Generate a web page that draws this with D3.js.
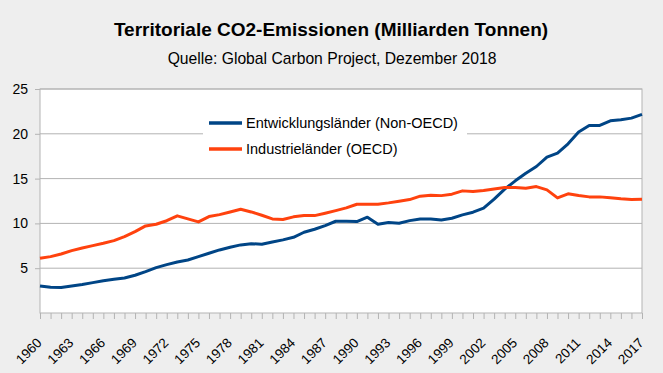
<!DOCTYPE html>
<html>
<head>
<meta charset="utf-8">
<script src="https://cdn.jsdelivr.net/npm/d3@7"></script>
<style>
  body { margin: 0; background: #eeeeee; }
  text { font-family: "Liberation Sans", Arial, sans-serif; fill: #000; }
</style>
</head>
<body>
<script>
// Werte (Milliarden Tonnen CO2)
var years = d3.range(1960, 2018);
var nonOecd = [3.02, 2.87, 2.85, 3.02, 3.17, 3.39, 3.61, 3.76, 3.91, 4.21,
  4.62, 5.06, 5.4, 5.7, 5.92, 6.29, 6.67, 7.04, 7.34, 7.6,
  7.74, 7.67, 7.93, 8.16, 8.45, 9.01, 9.35, 9.76, 10.24, 10.24,
  10.2, 10.69, 9.91, 10.09, 10.02, 10.31, 10.5, 10.5, 10.39, 10.58,
  10.95, 11.25, 11.7, 12.7, 13.82, 14.75, 15.6, 16.35, 17.4, 17.84,
  18.88, 20.19, 20.93, 20.93, 21.45, 21.56, 21.75, 22.16];
var oecd = [6.11, 6.29, 6.59, 6.96, 7.26, 7.52, 7.78, 8.08, 8.53, 9.08,
  9.72, 9.91, 10.3, 10.84, 10.5, 10.17, 10.76, 10.98, 11.28, 11.58,
  11.28, 10.91, 10.5, 10.43, 10.73, 10.87, 10.87, 11.14, 11.43, 11.73,
  12.14, 12.14, 12.14, 12.29, 12.48, 12.66, 13.04, 13.15, 13.1, 13.26,
  13.63, 13.55, 13.67, 13.85, 14.0, 14.0, 13.93, 14.11, 13.74, 12.85,
  13.3, 13.11, 12.96, 12.96, 12.85, 12.74, 12.66, 12.7];
var yTicks = [5, 10, 15, 20, 25];
var xLabels = d3.range(1960, 2018, 3);
var seriesNames = ["Entwicklungsländer (Non-OECD)", "Industrieländer (OECD)"];
var colors = ["#004586", "#ff420e"];

var W = 663, H = 373;
var margin = {top: 89, right: 21, bottom: 60, left: 40};
var width = W - margin.left - margin.right;
var height = H - margin.top - margin.bottom;

var svg = d3.select("body").append("svg")
  .attr("width", W)
  .attr("height", H);

svg.append("text")
  .attr("x", 331).attr("y", 36)
  .attr("text-anchor", "middle")
  .style("font-size", "19px").style("font-weight", "bold")
  .text("Territoriale CO2-Emissionen (Milliarden Tonnen)");
svg.append("text")
  .attr("x", 332).attr("y", 64)
  .attr("text-anchor", "middle")
  .style("font-size", "15.7px")
  .text("Quelle: Global Carbon Project, Dezember 2018");

var g = svg.append("g").attr("transform", "translate(" + margin.left + "," + margin.top + ")");

var x = d3.scaleLinear().domain([1960, 2017]).range([0, width]);
var y = d3.scaleLinear().domain([0, 25]).range([height, 0]);

g.append("rect")
  .attr("width", width).attr("height", height)
  .attr("fill", "#fff");

// Gitterlinien
g.selectAll(".grid").data(yTicks).enter().append("line")
  .attr("x1", 0).attr("x2", width)
  .attr("y1", d => y(d)).attr("y2", d => y(d))
  .attr("stroke", "#b3b3b3");

// Y-Achse
var yAxis = g.append("g")
  .call(d3.axisLeft(y).tickValues(yTicks).tickSize(5).tickPadding(7));
yAxis.select(".domain").remove();
yAxis.selectAll("line").attr("stroke", "#b3b3b3");
yAxis.selectAll("text").style("font-size", "14px").style("font-family", "Liberation Sans, Arial, sans-serif");

// X-Achse
var xAxis = g.append("g")
  .attr("transform", "translate(0," + height + ")")
  .call(d3.axisBottom(x).tickValues(years).tickSize(6).tickFormat(""));
xAxis.select(".domain").remove();
xAxis.selectAll("line").attr("stroke", "#b3b3b3");

g.selectAll(".xlab").data(xLabels).enter().append("text")
  .attr("transform", d => "translate(" + (x(d) - 4) + "," + (height + 24) + ") rotate(-45)")
  .attr("text-anchor", "end")
  .attr("dy", "0.7em")
  .style("font-size", "13.5px")
  .text(d => d);

g.append("rect")
  .attr("width", width).attr("height", height)
  .attr("fill", "none").attr("stroke", "#b3b3b3");

// Legende
var legend = g.append("g").attr("transform", "translate(" + (203 - margin.left) + "," + (110 - margin.top) + ")");
legend.append("rect")
  .attr("width", 264).attr("height", 50)
  .attr("fill", "#fff");
seriesNames.forEach(function(name, i) {
  legend.append("line")
    .attr("x1", 6).attr("x2", 39)
    .attr("y1", 13 + i * 26).attr("y2", 13 + i * 26)
    .attr("stroke", colors[i]).attr("stroke-width", 3.5);
  legend.append("text")
    .attr("x", 43).attr("y", 13 + i * 26)
    .attr("dy", "0.35em")
    .style("font-size", "14.5px")
    .text(name);
});

// Linien
var line = d3.line().x((d, i) => x(years[i])).y(d => y(d));
[nonOecd, oecd].forEach(function(s, i) {
  g.append("path")
    .datum(s)
    .attr("d", line)
    .attr("fill", "none")
    .attr("stroke", colors[i])
    .attr("stroke-width", 3)
    .attr("stroke-linejoin", "round");
});
</script>
</body>
</html>
